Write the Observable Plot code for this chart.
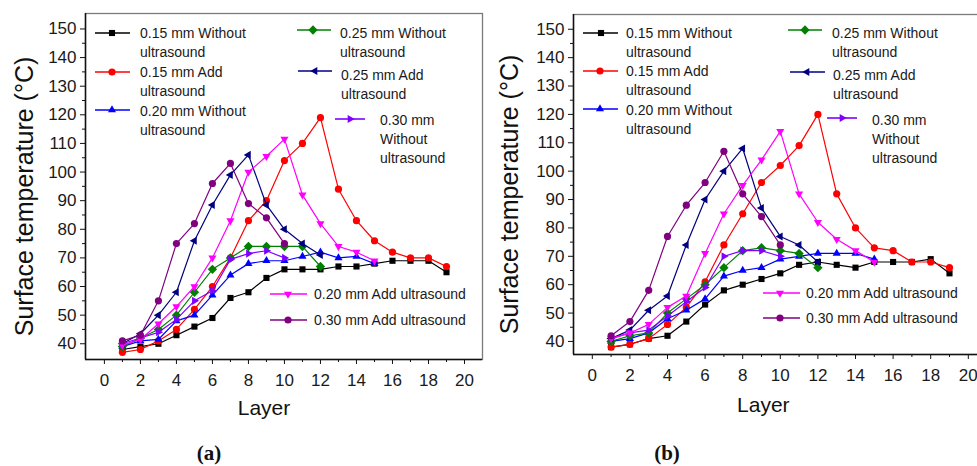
<!DOCTYPE html>
<html><head><meta charset="utf-8">
<script src="https://cdn.jsdelivr.net/npm/d3@7"></script>
<script src="https://cdn.jsdelivr.net/npm/@observablehq/plot@0.6"></script>
<style>
html,body{margin:0;padding:0;background:#fff;}
#root{position:relative;width:977px;height:466px;overflow:hidden;font-family:"Liberation Sans",Arial,sans-serif;}
.panel{position:absolute;top:0;}
.leg{position:absolute;font-size:14px;line-height:19px;color:#1a1a1a;white-space:nowrap;}
.legsym{position:absolute;overflow:visible;}
.cap{position:absolute;font-family:"Liberation Serif","DejaVu Serif",serif;font-weight:bold;font-size:21px;transform:translateX(-50%);color:#111;}
</style></head><body><div id="root"></div><script>
// ---------- data ----------
const layers = [1,2,3,4,5,6,7,8,9,10,11,12,13,14,15,16,17,18,19];
const seriesLabels = [
  ["0.15 mm Without","ultrasound"],
  ["0.15 mm Add","ultrasound"],
  ["0.20 mm Without","ultrasound"],
  ["0.25 mm Without","ultrasound"],
  ["0.25 mm Add","ultrasound"],
  ["0.30 mm","Without","ultrasound"],
  ["0.20 mm Add ultrasound"],
  ["0.30 mm Add ultrasound"]
];
const xTicks = [0,2,4,6,8,10,12,14,16,18,20];
const xMinorTicks = [1,3,5,7,9,11,13,15,17,19];
const yTicks = [40,50,60,70,80,90,100,110,120,130,140,150];
const yMinorTicks = [45,55,65,75,85,95,105,115,125,135,145];

// Panel (a)
const a015Without = [38,39,40,43,46,49,56,58,63,66,66,66,67,67,68,69,69,69,65];
const a015Add     = [37,38,41,45,52,60,70,83,90,104,110,119,94,83,76,72,70,70,67];
const a020Without = [39,41,41.5,48,50,57,64,68,69,69,70.5,72,70,70.5,68];
const a025Without = [39,42,45,50,58,66,70,74,74,74,74,67];
const a025Add     = [40,43.5,50,58,76,88.5,99,106,88.5,80,75,71];
const a030Without = [40,42,44,48.5,55,58.5,69.5,71.5,72.5,70];
const a020Add     = [39.5,41.5,47,53,60,70,83,100,105.5,111.5,92,82,74,72,69];
const a030Add     = [41,43,55,75,82,96,103,89,84,75];

// Panel (b)
const b015Without = [38,39,41,42,47,53,58,60,62,64,67,68,67,66,68,68,68,69,64];
const b015Add     = [38,39,41,46,52,61,74,85,96,102,109,120,92,80,73,72,68,68,66];
const b020Without = [40,41,43,48,51,55,63,65,66,69,70,71,71,71,69];
const b025Without = [40,42,43,50,55,60,66,72,73,72,71,66];
const b025Add     = [41,44,51,56,74,90,100,108,87,77,74,68];
const b030Without = [41,43,44,49,54,59,70,72,72,70];
const b020Add     = [41,43,46,52,56,71,85,95,104,114,92,82,76,72,68];
const b030Add     = [42,47,58,77,88,96,107,92,84,74];

const panelAValues = [a015Without,a015Add,a020Without,a025Without,a025Add,a030Without,a020Add,a030Add];
const panelBValues = [b015Without,b015Add,b020Without,b025Without,b025Add,b030Without,b020Add,b030Add];

// ---------- styles ----------
const colors = ["#000000","#ff0000","#0000ff","#008000","#000080","#8000ff","#ff00ff","#800080"];
function tri(angle){return {draw(ctx,size){const R=Math.sqrt(size/Math.PI)*1.3;for(let k=0;k<3;k++){const a=(angle+k*120)*Math.PI/180;const px=R*Math.cos(a),py=R*Math.sin(a);if(k)ctx.lineTo(px,py);else ctx.moveTo(px,py);}ctx.closePath();}};}
const diamond={draw(ctx,size){const R=Math.sqrt(size/Math.PI)*1.3;ctx.moveTo(0,-R);ctx.lineTo(R,0);ctx.lineTo(0,R);ctx.lineTo(-R,0);ctx.closePath();}};
const square={draw(ctx,size){const h=Math.sqrt(size/Math.PI)*0.85;ctx.rect(-h,-h,2*h,2*h);}};
const circle={draw(ctx,size){const r=Math.sqrt(size/Math.PI);ctx.moveTo(r,0);ctx.arc(0,0,r,0,2*Math.PI);}};
const symbols=[square,circle,tri(-90),diamond,tri(180),tri(0),tri(90),circle];
const R_DOT=3.6;

function buildPanel(values, cfg){
  const marks=[
    Plot.frame({stroke:"#7a7a7a",strokeWidth:1.3}),
    Plot.axisX({ticks:xTicks,tickSize:5,tickPadding:9,fontSize:17,label:null,fill:"#1a1a1a"}),
    Plot.axisX({ticks:xMinorTicks,tickSize:3,tickFormat:()=>"",label:null}),
    Plot.axisY({ticks:yTicks,tickSize:5,tickPadding:4,fontSize:17,label:null,fill:"#1a1a1a"}),
    Plot.axisY({ticks:yMinorTicks,tickSize:3,tickFormat:()=>"",label:null}),
    Plot.ruleX([cfg.xDomain[0]],{stroke:"#111",strokeWidth:1.5}),
    Plot.ruleY([cfg.yDomain[0]],{stroke:"#111",strokeWidth:1.5})
  ];
  values.forEach((vals,s)=>{
    const data=vals.map((v,i)=>({layer:layers[i],temp:v}));
    marks.push(Plot.line(data,{x:"layer",y:"temp",stroke:colors[s],strokeWidth:1.2}));
    marks.push(Plot.dot(data,{x:"layer",y:"temp",fill:colors[s],symbol:symbols[s],r:R_DOT}));
  });
  marks.push(Plot.text(["Surface temperature (°C)"],{text:d=>d,frameAnchor:"left",textAnchor:"middle",lineAnchor:"middle",rotate:-90,dx:cfg.ylabDx,dy:10,fontSize:25,fill:"#111"}));
  marks.push(Plot.text(["Layer"],{text:d=>d,frameAnchor:"bottom",textAnchor:"middle",lineAnchor:"middle",dx:cfg.xlabDx,dy:cfg.xlabDy,fontSize:21,fill:"#111"}));
  const svg=Plot.plot({
    width:cfg.width,height:420,
    marginLeft:85,marginTop:cfg.mt,marginRight:cfg.mr,marginBottom:cfg.mb,
    x:{domain:cfg.xDomain},y:{domain:cfg.yDomain},
    style:{fontFamily:"'Liberation Sans', Arial, sans-serif",background:"transparent",color:"#111",overflow:"visible"},
    marks
  });
  svg.style.maxWidth="none";
  const wrap=document.createElement("div");
  wrap.className="panel";wrap.style.left=cfg.left+"px";
  wrap.appendChild(svg);
  return wrap;
}

const root=document.getElementById("root");
root.appendChild(buildPanel(panelAValues,{left:0,width:488,mt:13,mr:6,mb:61,xDomain:[-1.05,21],yDomain:[34.5,155.4],ylabDx:-61,xlabDx:-20,xlabDy:49}));
root.appendChild(buildPanel(panelBValues,{left:488,width:510,mt:14,mr:11.4,mb:66,xDomain:[-1,21],yDomain:[35.4,155.2],ylabDx:-64,xlabDx:-17,xlabDy:51}));

// ---------- legends (HTML overlay) ----------
const legendLayout=[
  // panel a
  {s:0,lx1:95,lx2:130,mx:112,my:33,tx:140,ty:33},
  {s:1,lx1:95,lx2:130,mx:112,my:72,tx:140,ty:72},
  {s:2,lx1:95,lx2:130,mx:112,my:110,tx:140,ty:111},
  {s:3,lx1:297,lx2:331,mx:313,my:30,tx:340,ty:33},
  {s:4,lx1:298,lx2:332,mx:315,my:71,tx:341,ty:75},
  {s:5,lx1:335,lx2:365,mx:350,my:119,tx:380,ty:120},
  {s:6,lx1:270,lx2:307,mx:288,my:294,tx:314,ty:294},
  {s:7,lx1:270,lx2:307,mx:288,my:320,tx:314,ty:320},
  // panel b
  {s:0,lx1:583,lx2:618,mx:601,my:33,tx:626,ty:33},
  {s:1,lx1:583,lx2:618,mx:600,my:71,tx:626,ty:71},
  {s:2,lx1:583,lx2:618,mx:600,my:109,tx:626,ty:110},
  {s:3,lx1:788,lx2:822,mx:805,my:30,tx:832,ty:33},
  {s:4,lx1:790,lx2:825,mx:807,my:72,tx:833,ty:75},
  {s:5,lx1:827,lx2:857,mx:842,my:118,tx:872,ty:120},
  {s:6,lx1:763,lx2:800,mx:780,my:293,tx:806,ty:293},
  {s:7,lx1:763,lx2:800,mx:780,my:318,tx:806,ty:318}
];
const NS="http://www.w3.org/2000/svg";
legendLayout.forEach(e=>{
  const sv=document.createElementNS(NS,"svg");
  sv.setAttribute("class","legsym");
  sv.setAttribute("width",1);sv.setAttribute("height",1);
  sv.style.left="0px";sv.style.top="0px";
  const ln=document.createElementNS(NS,"line");
  ln.setAttribute("x1",e.lx1);ln.setAttribute("x2",e.lx2);
  ln.setAttribute("y1",e.my);ln.setAttribute("y2",e.my);
  ln.setAttribute("stroke",colors[e.s]);ln.setAttribute("stroke-width",1.6);
  sv.appendChild(ln);
  const p=d3.path();symbols[e.s].draw(p,Math.PI*R_DOT*R_DOT);
  const path=document.createElementNS(NS,"path");
  path.setAttribute("d",p.toString());
  path.setAttribute("transform",`translate(${e.mx},${e.my})`);
  path.setAttribute("fill",colors[e.s]);
  sv.appendChild(path);
  root.appendChild(sv);
  const t=document.createElement("div");
  t.className="leg";
  t.style.left=e.tx+"px";t.style.top=(e.ty-9.5)+"px";
  t.innerHTML=seriesLabels[e.s].join("<br>");
  root.appendChild(t);
});

// ---------- captions ----------
[["(a)",209],["(b)",667]].forEach(([txt,cx])=>{
  const c=document.createElement("div");
  c.className="cap";c.textContent=txt;
  c.style.left=cx+"px";c.style.top="441px";
  root.appendChild(c);
});
</script></body></html>
